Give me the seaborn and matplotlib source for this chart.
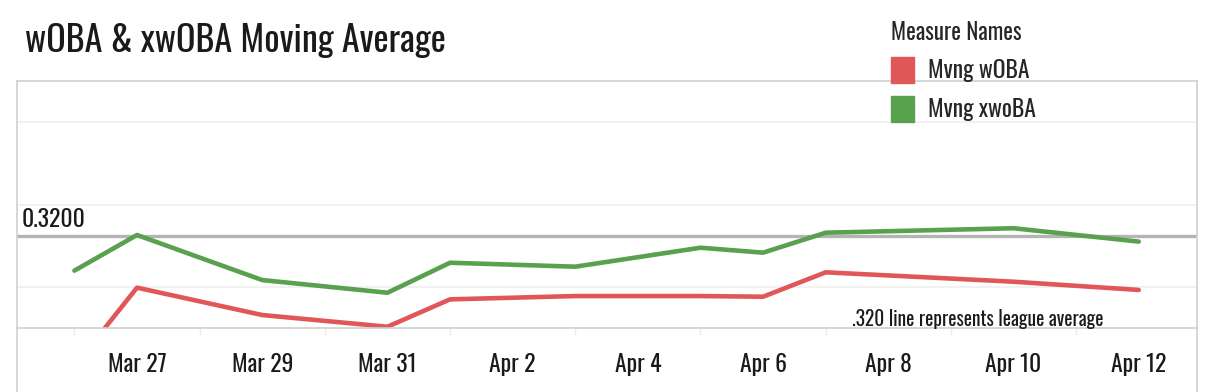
import pandas as pd
import matplotlib.pyplot as plt
import matplotlib.dates as mdates
from matplotlib import font_manager
from matplotlib.patches import Patch
from matplotlib.lines import Line2D
import seaborn as sns

# moving-average values
woba_dates = ["2023-03-26", "2023-03-27", "2023-03-29", "2023-03-31", "2023-04-01",
              "2023-04-03", "2023-04-05", "2023-04-06", "2023-04-07", "2023-04-10", "2023-04-12"]
mvng_woba = [0.241, 0.2887, 0.2721, 0.2650, 0.2816, 0.2836, 0.2836, 0.2832, 0.2980, 0.2923, 0.2873]
mvng_xwoba = [0.2990, 0.3206, 0.2933, 0.2856, 0.3038, 0.3014, 0.3129, 0.3099, 0.3220, 0.3247, 0.3166]
series_names = ["Mvng wOBA", "Mvng xwoBA"]
series_colors = ["#e15759", "#59a14f"]
tick_dates = ["2023-03-27", "2023-03-29", "2023-03-31", "2023-04-02", "2023-04-04",
              "2023-04-06", "2023-04-08", "2023-04-10", "2023-04-12"]
tick_labels = ["Mar 27", "Mar 29", "Mar 31", "Apr 2", "Apr 4", "Apr 6", "Apr 8", "Apr 10", "Apr 12"]
grid_values = [0.289, 0.339, 0.389]
league_avg = 0.320

df = pd.DataFrame({
    "date": pd.to_datetime(woba_dates * 2),
    "value": mvng_woba + mvng_xwoba,
    "measure": [series_names[0]] * len(woba_dates) + [series_names[1]] * len(woba_dates),
})

sns.set_theme(style="white")
# condensed font like the Tableau original, whichever is present
installed = {f.name for f in font_manager.fontManager.ttflist}
wanted = ["Oswald", "Roboto Condensed", "Barlow Condensed", "Liberation Sans Narrow"]
family = [f for f in wanted if f in installed][:1] + ["DejaVu Sans"]
plt.rcParams["font.family"] = family

fig = plt.figure(figsize=(12.08, 3.92), dpi=100)
ax = fig.add_axes([17 / 1208, 1 - 328 / 392, 1180 / 1208, 247 / 392])

sns.lineplot(data=df, x="date", y="value", hue="measure", palette=series_colors,
             linewidth=3.3, ax=ax, legend=False)
for ln in ax.get_lines():
    ln.set_solid_capstyle("round")
    ln.set_solid_joinstyle("round")

ax.axhline(league_avg, color="#b4b4b4", linewidth=2.4, zorder=1)

ax.set_xlim(pd.Timestamp("2023-03-25 02:00"), pd.Timestamp("2023-04-12 22:20"))
ax.set_ylim(0.26424, 0.41394)

ax.set_yticks(grid_values)
ax.set_yticklabels([])
ax.tick_params(axis="y", length=0)
ax.yaxis.grid(True, color="#efefef", linewidth=1.2)

ax.set_xticks(pd.to_datetime(tick_dates))
ax.set_xticklabels(tick_labels, fontsize=17, color="#1a1a1a")
ax.xaxis.set_minor_locator(mdates.DayLocator())
ax.tick_params(axis="x", which="major", length=7, color="#e6e6e6", pad=11)
ax.tick_params(axis="x", which="minor", length=5, color="#ededed", bottom=True)
ax.set_xlabel("")
ax.set_ylabel("")

for side in ["left", "right", "top", "bottom"]:
    ax.spines[side].set_color("#cfcfcf")
    ax.spines[side].set_linewidth(1.2)

# borders continue down through the date axis area
fig.add_artist(Line2D([17 / 1208, 17 / 1208], [0, 1 - 328 / 392], color="#cfcfcf", linewidth=1.2))
fig.add_artist(Line2D([1197 / 1208, 1197 / 1208], [0, 1 - 328 / 392], color="#cfcfcf", linewidth=1.2))

ax.text(0.004, league_avg + 0.0055, "0.3200", transform=ax.get_yaxis_transform(),
        fontsize=17, color="#1a1a1a", va="baseline", ha="left")
ax.text(0.708, 0.008, ".320 line represents league average", transform=ax.transAxes,
        fontsize=14, color="#1a1a1a", va="baseline", ha="left")

fig.text(25 / 1208, 1 - 41 / 392, "wOBA & xwOBA Moving Average", fontsize=26,
         color="#1a1a1a", va="center", ha="left")

handles = [Patch(facecolor=c, edgecolor=c, label=n) for n, c in zip(series_names, series_colors)]
leg = fig.legend(handles=handles, title="Measure Names", loc="upper left",
                 bbox_to_anchor=(870 / 1208, 1 - 0 / 392), frameon=False,
                 fontsize=17, title_fontsize=16.5, handlelength=0.95, handleheight=1.3,
                 handletextpad=0.6, labelspacing=0.55)
leg._legend_box.align = "left"

fig.savefig("out.png", dpi=100)
